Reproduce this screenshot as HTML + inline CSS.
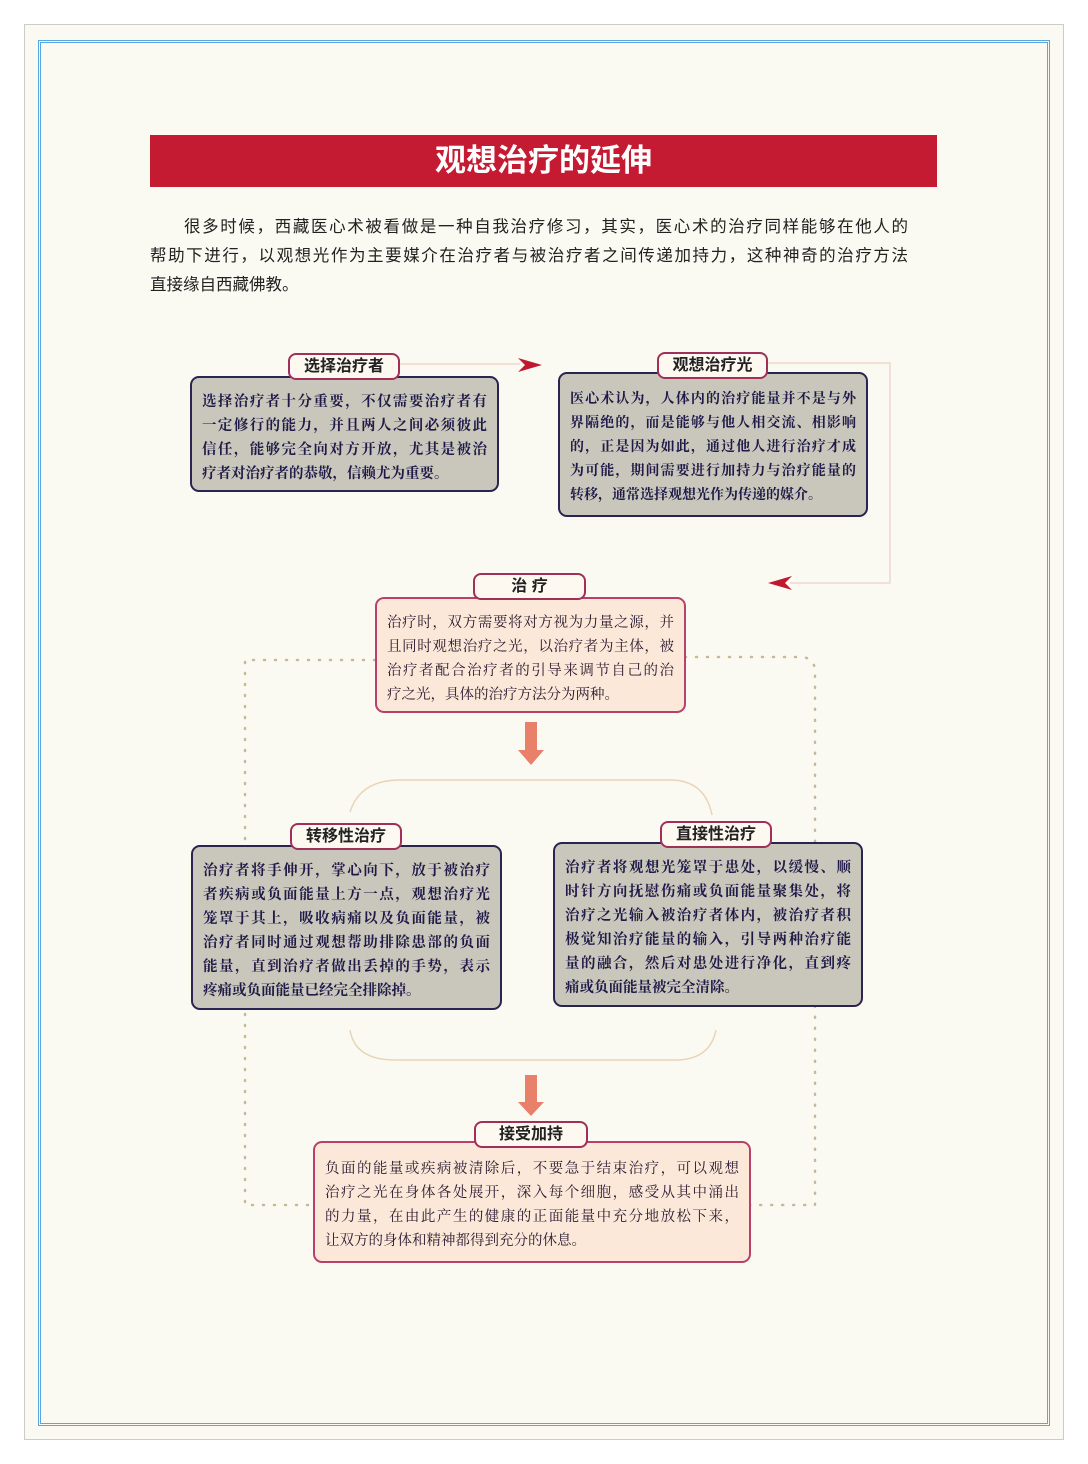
<!DOCTYPE html>
<html><head><meta charset="utf-8"><style>
body{margin:0;width:1088px;height:1464px;background:#fff;position:relative;overflow:hidden;font-family:"Liberation Sans","Noto Sans CJK SC",sans-serif}
.a{position:absolute}
.box{position:absolute;border-radius:9px;border:2px solid #2a2450;background:#c9c7bb;color:#1f1a48;font-weight:bold;font-size:14.5px;line-height:24px;padding:10px 10px;box-sizing:border-box;font-family:"Liberation Serif","Noto Serif CJK SC",serif}
.pk{background:#fbe8d8;border-color:#b8406a;color:#2a1a30}
.tab{position:absolute;border-radius:8px;border:2px solid #a0305a;background:#fdf8f0;color:#222;font-weight:bold;font-size:16px;text-align:center;line-height:23px;box-sizing:border-box}
.j{display:block;text-align:justify;text-align-last:justify;white-space:nowrap}
.l{display:block;white-space:nowrap}
</style></head><body>
<div class="a" style="left:24px;top:24px;width:1040px;height:1416px;border:1px solid #ccc;background:#fbfaf2;box-sizing:border-box"></div>
<div class="a" style="left:38px;top:40px;width:1012px;height:1386px;border:3px double #5aa6e0;box-sizing:border-box"></div>
<div class="a" style="left:150px;top:135px;width:787px;height:52px;background:#c41a32;color:#fff;font-weight:bold;font-size:31px;line-height:52px;text-align:center">观想治疗的延伸</div>
<div class="a" style="left:150px;top:213px;width:758px;font-size:16.5px;line-height:29px;color:#222">
<span class="j" style="padding-left:34px">很多时候，西藏医心术被看做是一种自我治疗修习，其实，医心术的治疗同样能够在他人的</span>
<span class="j">帮助下进行，以观想光作为主要媒介在治疗者与被治疗者之间传递加持力，这种神奇的治疗方法</span>
<span class="l">直接缘自西藏佛教。</span></div>
<svg class="a" style="left:0;top:0" width="1088" height="1464">
<path d="M400 364 H520 M768 363 H890 V583 H790" stroke="#f0d8d0" stroke-width="1.5" fill="none"/>
<polygon points="518,358 542,365 518,372 525,365" fill="#c0182e"/>
<polygon points="792,576 768,583 792,590 785,583" fill="#c0182e"/>
<path d="M375 660 H245 V1205 H313 M685 657 H800 Q815 657 815 672 V1205 H750" stroke="#c8b89a" stroke-width="2.5" stroke-dasharray="1 10" stroke-linecap="round" fill="none"/>
<path d="M350 812 Q360 780 400 780 H670 Q705 780 712 815 M350 1030 Q355 1060 395 1060 H675 Q710 1060 716 1030" stroke="#e8d4b8" stroke-width="1.5" fill="none"/>
<path d="M525 722 H537 V750 H544 L531 765 L518 750 H525Z M525 1075 H537 V1102 H544 L531 1116 L518 1102 H525Z" fill="#e8806a"/>
</svg>
<div class="box" style="left:190px;top:376px;width:309px;height:116px;padding-top:12px">
<span class="j">选择治疗者十分重要，不仅需要治疗者有</span><span class="j">一定修行的能力，并且两人之间必须彼此</span><span class="j">信任，能够完全向对方开放，尤其是被治</span><span class="l">疗者对治疗者的恭敬，信赖尤为重要。</span></div>
<div class="tab" style="left:288px;top:353px;width:112px;height:27px">选择治疗者</div>
<div class="box" style="left:558px;top:372px;width:310px;height:145px;padding-top:14px;font-size:14px">
<span class="j">医心术认为，人体内的治疗能量并不是与外</span><span class="j">界隔绝的，而是能够与他人相交流、相影响</span><span class="j">的，正是因为如此，通过他人进行治疗才成</span><span class="j">为可能，期间需要进行加持力与治疗能量的</span><span class="l">转移，通常选择观想光作为传递的媒介。</span></div>
<div class="tab" style="left:657px;top:352px;width:111px;height:27px">观想治疗光</div>
<div class="box pk" style="left:375px;top:597px;width:311px;height:116px;padding-top:12px;font-weight:normal">
<span class="j">治疗时，双方需要将对方视为力量之源，并</span><span class="j">且同时观想治疗之光，以治疗者为主体，被</span><span class="j">治疗者配合治疗者的引导来调节自己的治</span><span class="l">疗之光，具体的治疗方法分为两种。</span></div>
<div class="tab" style="left:473px;top:573px;width:113px;height:27px">治 疗</div>
<div class="box" style="left:191px;top:845px;width:311px;height:165px;padding-top:12px;font-size:14.5px">
<span class="j">治疗者将手伸开，掌心向下，放于被治疗</span><span class="j">者疾病或负面能量上方一点，观想治疗光</span><span class="j">笼罩于其上，吸收病痛以及负面能量，被</span><span class="j">治疗者同时通过观想帮助排除患部的负面</span><span class="j">能量，直到治疗者做出丢掉的手势，表示</span><span class="l">疼痛或负面能量已经完全排除掉。</span></div>
<div class="tab" style="left:290px;top:823px;width:112px;height:27px">转移性治疗</div>
<div class="box" style="left:553px;top:842px;width:310px;height:165px;padding-top:12px;font-size:14.5px">
<span class="j">治疗者将观想光笼罩于患处，以缓慢、顺</span><span class="j">时针方向抚慰伤痛或负面能量聚集处，将</span><span class="j">治疗之光输入被治疗者体内，被治疗者积</span><span class="j">极觉知治疗能量的输入，引导两种治疗能</span><span class="j">量的融合，然后对患处进行净化，直到疼</span><span class="l">痛或负面能量被完全清除。</span></div>
<div class="tab" style="left:660px;top:821px;width:112px;height:27px">直接性治疗</div>
<div class="box pk" style="left:313px;top:1141px;width:438px;height:122px;padding:14px 10px;font-weight:normal">
<span class="j">负面的能量或疾病被清除后，不要急于结束治疗，可以观想</span><span class="j">治疗之光在身体各处展开，深入每个细胞，感受从其中涌出</span><span class="j">的力量，在由此产生的健康的正面能量中充分地放松下来，</span><span class="l">让双方的身体和精神都得到充分的休息。</span></div>
<div class="tab" style="left:474px;top:1121px;width:114px;height:27px">接受加持</div>
</body></html>
